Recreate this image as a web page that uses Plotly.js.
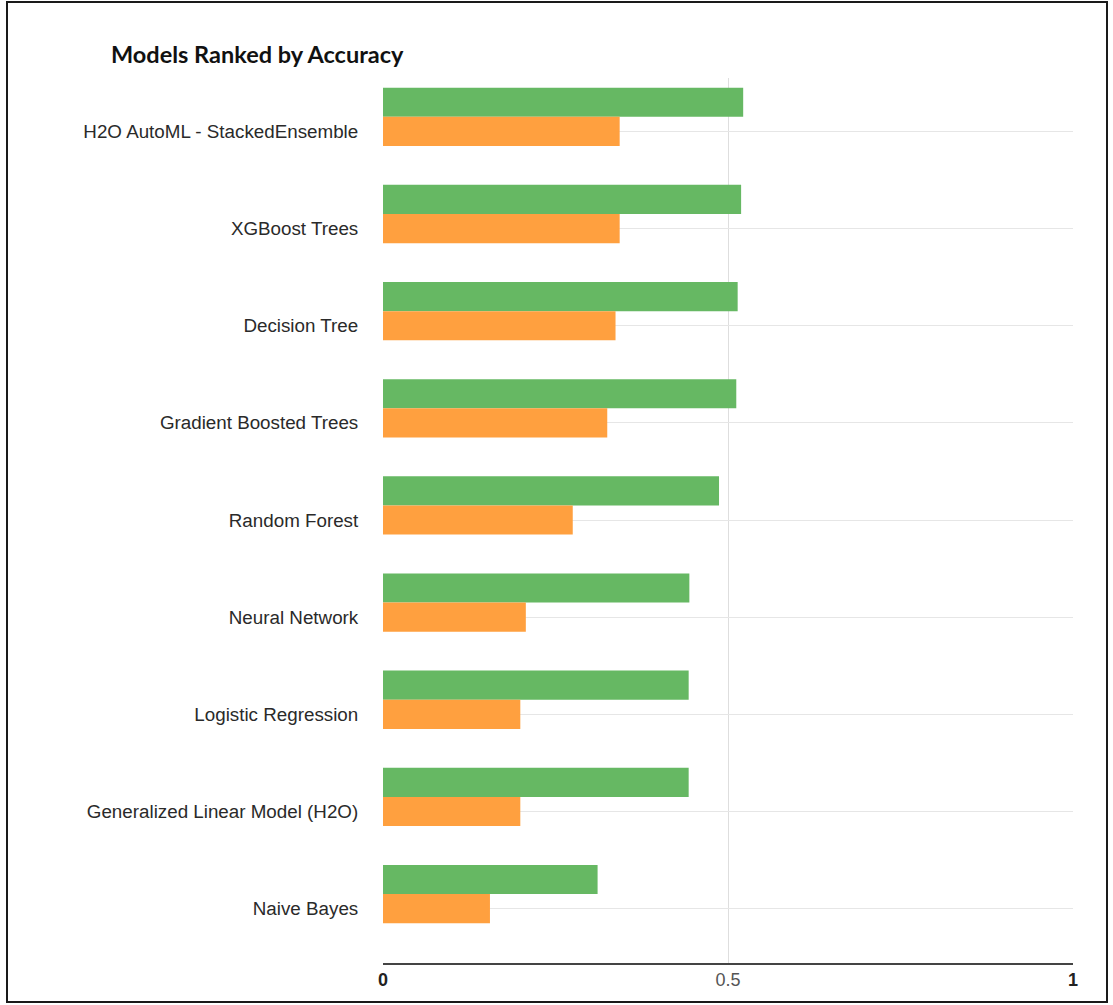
<!DOCTYPE html>
<html>
<head>
<meta charset="utf-8">
<script src="https://cdn.plot.ly/plotly-3.0.1.min.js"></script>
<style>
  html, body { margin: 0; padding: 0; background: #fff; }
  #wrap { position: relative; width: 1113px; height: 1005px; }
  #chart { position: absolute; left: 0; top: 0; width: 1113px; height: 1005px; }
  #frame { position: absolute; left: 6px; top: 1px; width: 1098px; height: 998px;
           border: 2px solid #1a1a1a; pointer-events: none; }
</style>
</head>
<body>
<div id="wrap">
  <div id="chart"></div>
  <div id="frame"></div>
</div>
<script>
// ---- data ----
const categories = [
  "H2O AutoML - StackedEnsemble",
  "XGBoost Trees",
  "Decision Tree",
  "Gradient Boosted Trees",
  "Random Forest",
  "Neural Network",
  "Logistic Regression",
  "Generalized Linear Model (H2O)",
  "Naive Bayes"
];
const greenValues  = [0.522, 0.519, 0.514, 0.512, 0.487, 0.444, 0.443, 0.443, 0.311];
const orangeValues = [0.343, 0.343, 0.337, 0.325, 0.275, 0.207, 0.199, 0.199, 0.155];
const xTickValues = [0, 0.5, 1];
const xTickLabels = ["0", "0.5", "1"];
const chartTitle = "Models Ranked by Accuracy";

// ---- chart ----
const greenTrace = {
  type: "bar", orientation: "h",
  name: "Accuracy",
  y: categories, x: greenValues,
  width: 0.3, offset: -0.45,
  marker: { color: "#66B863" },
  hoverinfo: "x+y"
};
const orangeTrace = {
  type: "bar", orientation: "h",
  name: "Kappa",
  y: categories, x: orangeValues,
  width: 0.3, offset: -0.15,
  marker: { color: "#FFA03F" },
  hoverinfo: "x+y"
};

const tickText = xTickLabels.map(function (t, i) {
  return (xTickValues[i] === 0.5)
    ? '<span style="color:#555">' + t + '</span>'
    : '<b>' + t + '</b>';
});

const layout = {
  width: 1113, height: 1005,
  margin: { l: 383, r: 40, t: 78, b: 42, pad: 0 },
  paper_bgcolor: "#ffffff", plot_bgcolor: "#ffffff",
  showlegend: false,
  barmode: "overlay",
  font: { family: "Liberation Sans, Arial, sans-serif", color: "#222" },
  title: {
    text: "<b>" + chartTitle + "</b>",
    font: { family: "Lato, Open Sans, sans-serif", size: 23.5, color: "#111" },
    xref: "container", yref: "container",
    x: 111 / 1113, xanchor: "left",
    y: 1 - 55 / 1005, yanchor: "middle"
  },
  xaxis: {
    range: [0, 1],
    tickmode: "array", tickvals: xTickValues, ticktext: tickText,
    tickfont: { size: 18, color: "#222", family: "Liberation Sans, Arial, sans-serif" },
    showgrid: true, gridcolor: "#dedede", gridwidth: 1,
    zeroline: false,
    showline: true, linecolor: "#444", linewidth: 1.5,
    ticks: "", fixedrange: true
  },
  yaxis: {
    type: "category",
    categoryorder: "array", categoryarray: categories,
    range: [8.56, -0.55],
    tickfont: { size: 18.8, color: "#2a2a2a", family: "Liberation Sans, Arial, sans-serif" },
    showgrid: true, gridcolor: "#e6e6e6", gridwidth: 1,
    zeroline: false, showline: false,
    ticks: "outside", ticklen: 20, tickcolor: "rgba(0,0,0,0)",
    fixedrange: true
  }
};

Plotly.newPlot("chart", [greenTrace, orangeTrace], layout, { displayModeBar: false, staticPlot: true });
</script>
</body>
</html>
